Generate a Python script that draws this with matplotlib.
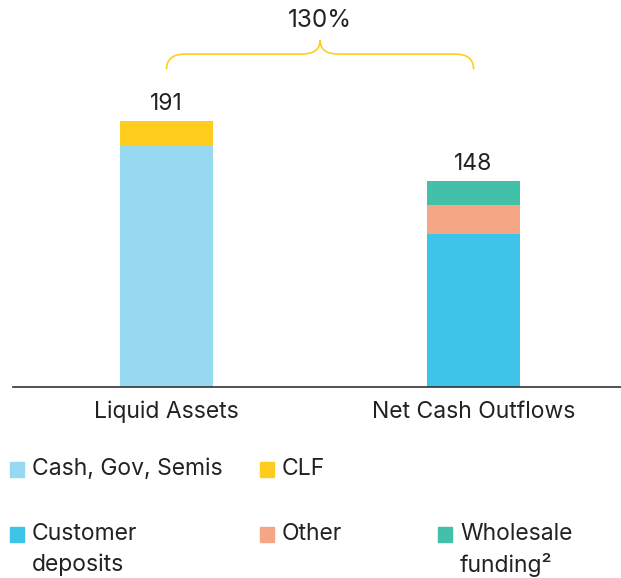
import matplotlib.pyplot as plt
import numpy as np
from matplotlib.patches import Rectangle, PathPatch
from matplotlib.path import Path

plt.rcParams['font.family'] = ['Inter', 'DejaVu Sans']

# data
categories = ['Liquid Assets', 'Net Cash Outflows']
cash_gov_semis = 173
clf = 18
customer_deposits = 110
other = 21
wholesale = 17
totals = [191, 148]
lcr_label = '130%'

c_cash = '#97D9F0'
c_clf = '#FFCD1E'
c_dep = '#3EC4E8'
c_other = '#F5A785'
c_whole = '#43C1A8'
txt = '#222222'
fs = 16.5

W, H = 621, 578
fig = plt.figure(figsize=(W / 100, H / 100), dpi=100)
base_px = 387
ppu = 1.393
ax = fig.add_axes([13 / W, 1 - base_px / H, 1 - 13 / W, base_px / H])
ax.set_ylim(0, base_px / ppu)
ax.set_xlim(-0.5, 1.48)

x = np.arange(len(categories))
w = 0.303
ax.bar(x[0], cash_gov_semis, w, color=c_cash)
ax.bar(x[0], clf, w, bottom=cash_gov_semis, color=c_clf)
ax.bar(x[1], customer_deposits, w, color=c_dep)
ax.bar(x[1], other, w, bottom=customer_deposits, color=c_other)
ax.bar(x[1], wholesale, w, bottom=customer_deposits + other, color=c_whole)

for xi, t in zip(x, totals):
    ax.annotate(str(t), (xi, t), xytext=(0, 4), textcoords='offset points',
                ha='center', va='bottom', fontsize=fs, color=txt)

# brace over both bars
yb, yf, yp = 228, 239, 249
r = 0.06
verts = [(0, yb), (0, yf), (r, yf),
         (0.5 - r, yf), (0.5, yf), (0.5, yp),
         (0.5, yf), (0.5 + r, yf),
         (1 - r, yf), (1, yf), (1, yb)]
codes = [Path.MOVETO, Path.CURVE3, Path.CURVE3,
         Path.LINETO, Path.CURVE3, Path.CURVE3,
         Path.CURVE3, Path.CURVE3,
         Path.LINETO, Path.CURVE3, Path.CURVE3]
ax.add_patch(PathPatch(Path(verts, codes), fill=False, edgecolor=c_clf, lw=1.2, clip_on=False))
ax.text(0.5, 263, lcr_label, ha='center', va='center', fontsize=17.5, color=txt)

for s in ['top', 'right', 'left']:
    ax.spines[s].set_visible(False)
ax.spines['bottom'].set_color('#333333')
ax.spines['bottom'].set_linewidth(1.2)
ax.set_yticks([])
ax.set_xticks(x, categories)
ax.tick_params(axis='x', length=0, pad=10, labelsize=fs, labelcolor=txt)

# legend
legend_items = [
    (10, 469, c_cash, ['Cash, Gov, Semis']),
    (260, 469, c_clf, ['CLF']),
    (10, 534, c_dep, ['Customer', 'deposits']),
    (260, 534, c_other, ['Other']),
    (438, 534, c_whole, ['Wholesale', 'funding²']),
]
for px, py, col, lines in legend_items:
    fig.add_artist(Rectangle((px / W, 1 - (py + 7.5) / H), 14 / W, 15 / H,
                             transform=fig.transFigure, color=col))
    for i, line in enumerate(lines):
        fig.text((px + 22) / W, 1 - (py + 31 * i) / H, line, ha='left', va='center',
                 fontsize=fs, color=txt)

plt.savefig('out.png', dpi=100)
